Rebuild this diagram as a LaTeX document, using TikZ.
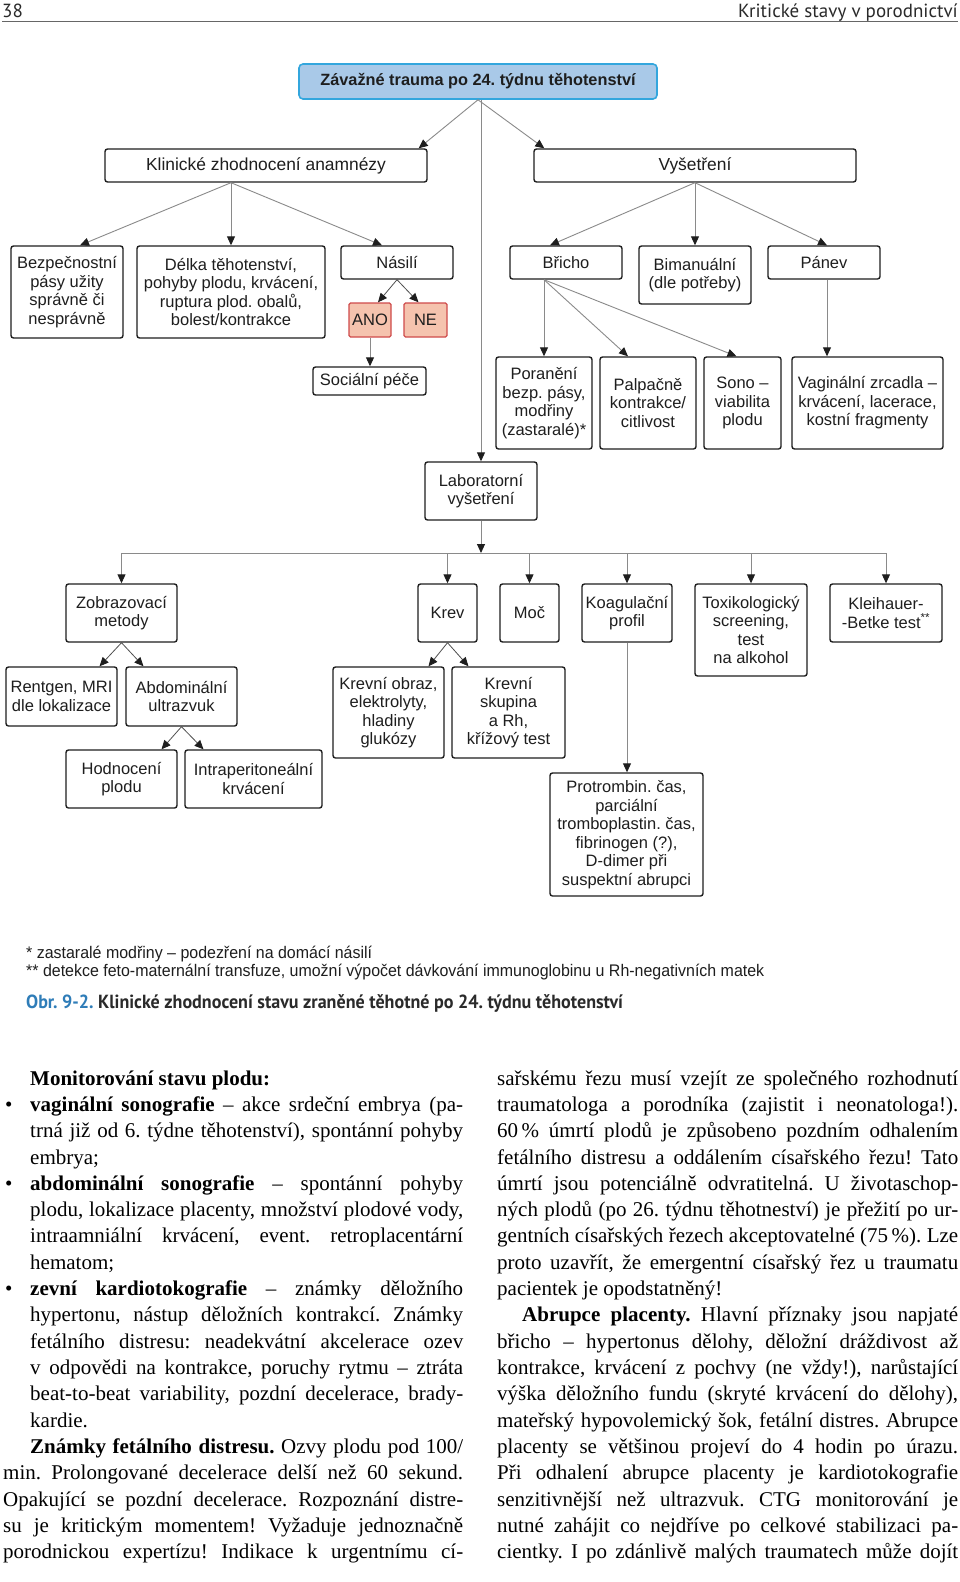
\documentclass[tikz,border=0pt]{standalone}
\usepackage{fontspec}
\setmainfont{Liberation Serif}
\setsansfont{Liberation Sans}
\newfontfamily\hdrfont{PT Sans}
\newfontfamily\capfont[FakeStretch=0.95]{PT Sans}
\newfontfamily\fnfont[FakeStretch=0.95]{Liberation Sans}
\usetikzlibrary{arrows.meta,calc}
\frenchspacing
\definecolor{topfill}{HTML}{A9C9E8}
\definecolor{topdraw}{HTML}{33A6DD}
\definecolor{anofill}{HTML}{F5C3AE}
\definecolor{anodraw}{HTML}{CF4B4B}
\definecolor{lnk}{HTML}{8A8A8A}
\definecolor{lnkd}{HTML}{505050}
\definecolor{txt}{HTML}{1E1E1E}
\definecolor{capblue}{HTML}{2F7DB8}
\definecolor{captxt}{HTML}{2A2A2A}
\tikzset{
  box/.style={draw=txt, line width=1.4pt, rounded corners=2.5pt, fill=white, text=txt,
    font=\sffamily\fontsize{16.5}{18.5}\selectfont, align=center, inner sep=1pt},
  bigbox/.style={box, font=\sffamily\fontsize{17.4}{19}\selectfont},
  topbox/.style={box, draw=topdraw, fill=topfill, line width=1.6pt, rounded corners=4pt,
    font=\sffamily\bfseries\fontsize{16.3}{18.5}\selectfont},
  redbox/.style={box, draw=anodraw, fill=anofill, rounded corners=1.5pt},
  conn/.style={draw=lnk, line width=0.9pt, -{Triangle[length=9pt,width=8pt,color=txt]}},
  connd/.style={conn, draw=lnkd, line width=0.8pt},
  bodytxt/.style={anchor=base west, inner sep=0pt, text=black, font=\fontsize{21}{25}\selectfont},
  fntxt/.style={anchor=base west, inner sep=0pt, text=txt, font=\fnfont\fontsize{16.8}{19}\selectfont},
}
% \bx[opts]{name}{x1}{y1}{x2}{y2}{text}
\newcommand\bx[7][]{\node[box,#1,minimum width={(#5-#3)*1pt},minimum height={(#6-#4)*1pt}]
  (#2) at ({(#3+#5)/2},{(#4+#6)/2}) {#7};}
% justified line: name, x, line index, width, text
\newcommand\jl[5]{\node[bodytxt] (#1) at (#2,{1085+26.33*(#3-1)}) {\makebox[#4pt][s]{#5}};}
% left-aligned line: name, x, line index, text
\newcommand\lft[4]{\node[bodytxt] (#1) at (#2,{1085+26.33*(#3-1)}) {#4};}
\begin{document}
\begin{tikzpicture}[x=1pt,y=-1pt]
\useasboundingbox (0,0) rectangle (960,1582);
\fill[white] (0,0) rectangle (960,1582);

% header
\node[anchor=base west, inner sep=0pt, font=\hdrfont\fontsize{19}{22}\selectfont, text=captxt] (pg) at (2,17) {38};
\node[anchor=base east, inner sep=0pt, font=\hdrfont\fontsize{19}{22}\selectfont, text=captxt] (runh) at (958,17) {Kritické stavy v porodnictví};
\draw[draw=black!60, line width=0.8pt] (2,21.5) -- (958,21.5);

% boxes
\bx[topbox]{top}{299}{64}{657}{99}{Závažné trauma po 24. týdnu těhotenství}
\bx[bigbox]{klin}{105}{149}{427}{182}{Klinické zhodnocení anamnézy}
\bx[bigbox]{vys}{534}{149}{856}{182}{Vyšetření}
\bx{bezp}{11}{246}{123}{338}{Bezpečnostní\\pásy užity\\správně či\\nesprávně}
\bx{delka}{137}{246}{325}{338}{Délka těhotenství,\\pohyby plodu, krvácení,\\ruptura plod. obalů,\\bolest/kontrakce}
\bx{nasili}{341}{246}{453}{279}{Násilí}
\bx[redbox]{ano}{349}{303}{391}{337}{ANO}
\bx[redbox]{ne}{404}{303}{447}{337}{NE}
\bx{soc}{313}{367}{426}{395}{Sociální péče}
\bx{brich}{510}{246}{622}{279}{Břicho}
\bx{biman}{639}{246}{751}{304}{Bimanuální\\(dle potřeby)}
\bx{panev}{768}{246}{880}{279}{Pánev}
\bx{poran}{496}{357}{592}{449}{Poranění\\bezp. pásy,\\modřiny\\(zastaralé)*}
\bx{palp}{600}{357}{696}{449}{Palpačně\\kontrakce/\\citlivost}
\bx{sono}{704}{357}{781}{449}{Sono –\\viabilita\\plodu}
\bx{vag}{792}{357}{943}{449}{Vaginální zrcadla –\\krvácení, lacerace,\\kostní fragmenty}
\bx{lab}{425}{462}{537}{520}{Laboratorní\\vyšetření}
\bx{zob}{66}{584}{177}{642}{Zobrazovací\\metody}
\bx{krev}{418}{584}{477}{642}{Krev}
\bx{moc}{500}{584}{559}{642}{Moč}
\bx{koag}{582}{584}{672}{642}{Koagulační\\profil}
\bx{tox}{695}{584}{807}{676}{Toxikologický\\screening,\\test\\na alkohol}
\bx{klei}{830}{584}{942}{642}{Kleihauer-\\-Betke test\textsuperscript{**}}
\bx{rent}{6}{667}{117}{726}{Rentgen, MRI\\dle lokalizace}
\bx{abd}{126}{667}{237}{726}{Abdominální\\ultrazvuk}
\bx{hodn}{66}{750}{177}{808}{Hodnocení\\plodu}
\bx{intra}{185}{750}{322}{808}{Intraperitoneální\\krvácení}
\bx{kobr}{333}{667}{444}{758}{Krevní obraz,\\elektrolyty,\\hladiny\\glukózy}
\bx{kskup}{452}{667}{565}{758}{Krevní\\skupina\\a Rh,\\křížový test}
\bx{prot}{550}{773}{703}{896}{Protrombin. čas,\\parciální\\tromboplastin. čas,\\fibrinogen (?),\\D-dimer při\\suspektní abrupci}

% connectors
\draw[conn] (top.south) -- ($(klin.north east)+(-9,0)$);
\draw[conn] (top.south) -- ($(vys.north west)+(11,0)$);
\draw[conn] (lab.north |- top.south) -- (lab.north);

\coordinate (kS) at (klin.south -| delka.north);
\draw[conn] (kS) -- ($(bezp.north)+(13,0)$);
\draw[conn] (kS) -- (delka.north);
\draw[conn] (kS) -- ($(nasili.north)+(-15,0)$);
\draw[connd] (nasili.south) -- ($(ano.north)+(8,0)$);
\draw[connd] (nasili.south) -- ($(ne.north)+(-7,0)$);
\draw[conn] (ano.south) -- (ano.south |- soc.north);

\draw[conn] (vys.south) -- ($(brich.north)+(-16,0)$);
\draw[conn] (vys.south) -- (vys.south |- biman.north);
\draw[conn] (vys.south) -- ($(panev.north)+(3,0)$);
\coordinate (bS) at (brich.south -| poran.north);
\draw[conn] (bS) -- (poran.north);
\draw[conn] (bS) -- ($(palp.north)+(-20,0)$);
\draw[conn] (bS) -- ($(sono.north)+(-6,0)$);
\coordinate (pS) at ($(panev.south)+(3,0)$);
\draw[conn] (pS) -- (pS |- vag.north);

\coordinate (barY) at (0,553);
\coordinate (barL) at (zob.north |- barY);
\coordinate (barR) at (klei.north |- barY);
\draw[conn] (lab.south) -- (lab.south |- barY);
\draw[draw=lnk, line width=0.9pt] (barL) -- (barR);
\draw[conn] (barL) -- (zob.north);
\draw[conn] (krev.north |- barY) -- (krev.north);
\draw[conn] (moc.north |- barY) -- (moc.north);
\draw[conn] (koag.north |- barY) -- (koag.north);
\draw[conn] (tox.north |- barY) -- (tox.north);
\draw[conn] (barR) -- (klei.north);

\draw[connd] (zob.south) -- ($(rent.north)+(38,0)$);
\draw[connd] (zob.south) -- ($(abd.north)+(-38,0)$);
\draw[connd] (abd.south) -- ($(hodn.north)+(40,0)$);
\draw[connd] (abd.south) -- ($(intra.north)+(-50,0)$);
\draw[connd] (krev.south) -- ($(kobr.north)+(40,0)$);
\draw[connd] (krev.south) -- ($(kskup.north)+(-40,0)$);
\draw[conn] (koag.south) -- (koag.south |- prot.north);

% footnotes and caption
\node[fntxt] (fn1) at (26,958) {* zastaralé modřiny – podezření na domácí násilí};
\node[fntxt] (fn2) at (26,976) {** detekce feto-maternální transfuze, umožní výpočet dávkování immunoglobinu u Rh-negativních matek};
\node[anchor=base west, inner sep=0pt, font=\capfont\bfseries\fontsize{19}{22}\selectfont] (cap) at (26,1008)
  {\textcolor{capblue}{Obr. 9-2.} \textcolor{captxt}{Klinické zhodnocení stavu zraněné těhotné po 24. týdnu těhotenství}};

% body text, left column
\lft{L1}{30}{1}{\textbf{Monitorování stavu plodu:}}
\node[bodytxt] (b1) at (5,{1085+26.33}) {•};
\jl{L2}{30}{2}{433}{\textbf{vaginální sonografie} – akce srdeční embrya (pa-}
\jl{L3}{30}{3}{433}{trná již od 6. týdne těhotenství), spontánní pohyby}
\lft{L4}{30}{4}{embrya;}
\node[bodytxt] (b2) at (5,{1085+26.33*4}) {•};
\jl{L5}{30}{5}{433}{\textbf{abdominální sonografie} – spontánní pohyby}
\jl{L6}{30}{6}{433}{plodu, lokalizace placenty, množství plodové vody,}
\jl{L7}{30}{7}{433}{intraamniální krvácení, event. retroplacentární}
\lft{L8}{30}{8}{hematom;}
\node[bodytxt] (b3) at (5,{1085+26.33*8}) {•};
\jl{L9}{30}{9}{433}{\textbf{zevní kardiotokografie} – známky děložního}
\jl{L10}{30}{10}{433}{hypertonu, nástup děložních kontrakcí. Známky}
\jl{L11}{30}{11}{433}{fetálního distresu: neadekvátní akcelerace ozev}
\jl{L12}{30}{12}{433}{v odpovědi na kontrakce, poruchy rytmu – ztráta}
\jl{L13}{30}{13}{433}{beat-to-beat variability, pozdní decelerace, brady-}
\lft{L14}{30}{14}{kardie.}
\jl{L15}{30}{15}{433}{\textbf{Známky fetálního distresu.} Ozvy plodu pod 100/}
\jl{L16}{3}{16}{460}{min. Prolongované decelerace delší než 60 sekund.}
\jl{L17}{3}{17}{460}{Opakující se pozdní decelerace. Rozpoznání distre-}
\jl{L18}{3}{18}{460}{su je kritickým momentem! Vyžaduje jednoznačně}
\jl{L19}{3}{19}{460}{porodnickou expertízu! Indikace k urgentnímu cí-}

% body text, right column
\jl{R1}{497}{1}{461}{sařskému řezu musí vzejít ze společného rozhodnutí}
\jl{R2}{497}{2}{461}{traumatologa a porodníka (zajistit i neonatologa!).}
\jl{R3}{497}{3}{461}{60\,\% úmrtí plodů je způsobeno pozdním odhalením}
\jl{R4}{497}{4}{461}{fetálního distresu a oddálením císařského řezu! Tato}
\jl{R5}{497}{5}{461}{úmrtí jsou potenciálně odvratitelná. U životaschop-}
\jl{R6}{497}{6}{461}{ných plodů (po 26. týdnu těhotneství) je přežití po ur-}
\jl{R7}{497}{7}{461}{gentních císařských řezech akceptovatelné (75\,\%). Lze}
\jl{R8}{497}{8}{461}{proto uzavřít, že emergentní císařský řez u traumatu}
\lft{R9}{497}{9}{pacientek je opodstatněný!}
\jl{R10}{522}{10}{436}{\textbf{Abrupce placenty.} Hlavní příznaky jsou napjaté}
\jl{R11}{497}{11}{461}{břicho – hypertonus dělohy, děložní dráždivost až}
\jl{R12}{497}{12}{461}{kontrakce, krvácení z pochvy (ne vždy!), narůstající}
\jl{R13}{497}{13}{461}{výška děložního fundu (skryté krvácení do dělohy),}
\jl{R14}{497}{14}{461}{mateřský hypovolemický šok, fetální distres. Abrupce}
\jl{R15}{497}{15}{461}{placenty se většinou projeví do 4 hodin po úrazu.}
\jl{R16}{497}{16}{461}{Při odhalení abrupce placenty je kardiotokografie}
\jl{R17}{497}{17}{461}{senzitivnější než ultrazvuk. CTG monitorování je}
\jl{R18}{497}{18}{461}{nutné zahájit co nejdříve po celkové stabilizaci pa-}
\jl{R19}{497}{19}{461}{cientky. I po zdánlivě malých traumatech může dojít}
\end{tikzpicture}
\end{document}
